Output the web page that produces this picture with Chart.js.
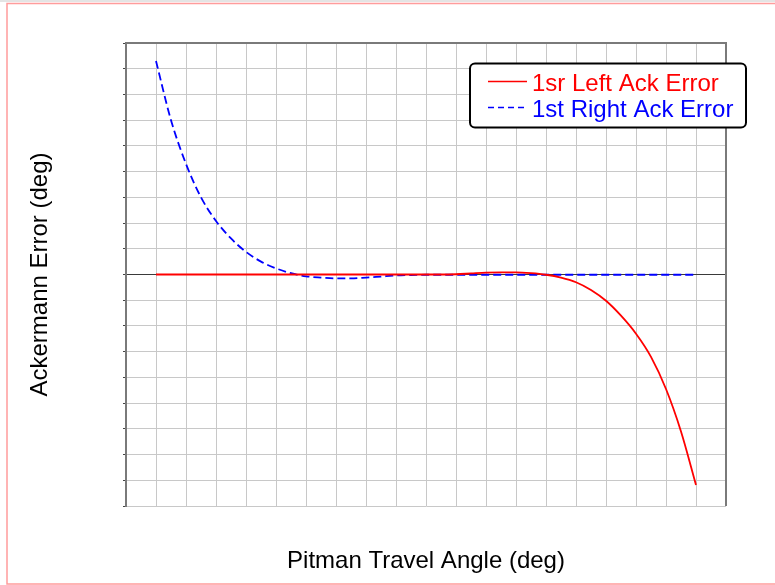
<!DOCTYPE html>
<html>
<head>
<meta charset="utf-8">
<script src="https://cdn.jsdelivr.net/npm/chart.js@4/dist/chart.umd.min.js"></script>
<style>
  html, body { margin: 0; padding: 0; background: #ffffff; }
  canvas { display: block; }
</style>
</head>
<body>
<canvas id="c" width="775" height="585"></canvas>
<script>
// ---- data (axis units hidden in the original) ----
const pitmanAngle = [1, 1.5, 2, 2.5, 3, 3.5, 4, 4.5, 5, 5.5, 6, 6.5, 7, 7.5, 8, 8.5, 9, 9.5, 10,
                     10.5, 11, 11.5, 12, 12.5, 13, 13.5, 14, 14.5, 15, 15.5, 16, 16.5, 17, 17.5, 18, 18.5, 19];
const leftAckError = [0, 0, 0, 0, 0, 0, 0, 0, 0, 0, 0, 0, 0, 0, 0, 0, 0, 0, 0,
                      0, 0.01, 0.04, 0.07, 0.08, 0.08, 0.05, -0.01, -0.12, -0.3, -0.6, -1.02, -1.6, -2.3, -3.2, -4.45, -6.1, -8.18];
const rightAckError = [8.3, 6.0, 4.3, 3.0, 2.08, 1.4, 0.88, 0.5, 0.24, 0.05, -0.07, -0.12, -0.15, -0.15, -0.12, -0.08, -0.04, -0.02, -0.01,
                       -0.01, -0.01, -0.01, -0.01, -0.01, -0.01, -0.01, -0.01, -0.01, -0.01, -0.01, -0.01, -0.01, -0.01, -0.01, -0.01, -0.01, -0.01];
const seriesNames = ["1sr Left Ack Error", "1st Right Ack Error"];
const xTitle = "Pitman Travel Angle (deg)";
const yTitle = "Ackermann Error (deg)";
const xRange = [0, 20];
const yRange = [-9, 9];

const FONT = "Arial, 'Liberation Sans', sans-serif";

const pagePlugin = {
  id: 'page',
  beforeDraw(chart) {
    const ctx = chart.ctx;
    ctx.save();
    ctx.fillStyle = '#ffffff';
    ctx.fillRect(0, 0, chart.width, chart.height);
    ctx.fillStyle = '#e4e4e4';
    ctx.fillRect(0, 0, chart.width, 2);
    ctx.strokeStyle = '#ff9c9c';
    ctx.lineWidth = 1.5;
    ctx.beginPath();
    ctx.moveTo(chart.width, 3.5);
    ctx.lineTo(7, 3.5);
    ctx.lineTo(7, 584);
    ctx.lineTo(chart.width, 584);
    ctx.stroke();
    ctx.restore();
  },
  afterDatasetsDraw(chart) {
    const ctx = chart.ctx;
    const a = chart.chartArea;
    ctx.save();
    ctx.strokeStyle = '#7a7a7a';
    ctx.lineWidth = 2;
    ctx.beginPath();
    ctx.moveTo(a.left, a.bottom);
    ctx.lineTo(a.left, a.top);
    ctx.lineTo(a.right, a.top);
    ctx.lineTo(a.right, a.bottom);
    ctx.stroke();
    ctx.restore();
  },
  afterDraw(chart) {
    // legend box inside the plot
    const ctx = chart.ctx;
    ctx.save();
    const bx = 470, by = 63.5, bw = 276, bh = 64, r = 5;
    ctx.fillStyle = '#ffffff';
    ctx.strokeStyle = '#000000';
    ctx.lineWidth = 2;
    ctx.beginPath();
    ctx.roundRect(bx, by, bw, bh, r);
    ctx.fill();
    ctx.stroke();
    const baselines = [91, 117];
    chart.data.datasets.forEach((ds, i) => {
      const ly = baselines[i] - 9.5;
      ctx.strokeStyle = ds.borderColor;
      ctx.lineWidth = 1.5;
      ctx.setLineDash(ds.borderDash && ds.borderDash.length ? [6, 4] : []);
      ctx.beginPath();
      ctx.moveTo(488, ly);
      ctx.lineTo(527, ly);
      ctx.stroke();
      ctx.setLineDash([]);
      ctx.fillStyle = ds.borderColor;
      ctx.font = '24px ' + FONT;
      ctx.textBaseline = 'alphabetic';
      ctx.textAlign = 'left';
      ctx.fillText(ds.label, 532, baselines[i]);
    });
    ctx.restore();
  }
};

new Chart(document.getElementById('c'), {
  type: 'line',
  data: {
    labels: pitmanAngle,
    datasets: [
      {
        label: seriesNames[0],
        data: pitmanAngle.map((x, i) => ({ x: x, y: leftAckError[i] })),
        borderColor: '#ff0000',
        borderWidth: 1.8,
        pointRadius: 0,
        cubicInterpolationMode: 'monotone',
        fill: false
      },
      {
        label: seriesNames[1],
        data: pitmanAngle.map((x, i) => ({ x: x, y: rightAckError[i] })),
        borderColor: '#0000ff',
        borderWidth: 1.8,
        borderDash: [8, 4],
        pointRadius: 0,
        cubicInterpolationMode: 'monotone',
        fill: false
      }
    ]
  },
  options: {
    responsive: false,
    animation: false,
    devicePixelRatio: 1,
    layout: { padding: { top: 43, right: 49, left: 0, bottom: 0 } },
    plugins: {
      legend: { display: false },
      tooltip: { enabled: false },
      title: { display: false }
    },
    scales: {
      x: {
        type: 'linear',
        min: xRange[0],
        max: xRange[1],
        ticks: { display: false, stepSize: 1 },
        grid: { color: '#c8c8c8', lineWidth: 1, drawTicks: false },
        border: { display: false },
        title: {
          display: true,
          text: xTitle,
          color: '#000000',
          font: { family: FONT, size: 24 },
          padding: { top: 0, bottom: 9 }
        },
        afterFit(scale) { scale.height = 79; }
      },
      y: {
        type: 'linear',
        min: yRange[0],
        max: yRange[1],
        ticks: { display: false, stepSize: 1 },
        grid: {
          color: (c) => (c.tick && c.tick.value === 0) ? '#3a3a3a' : '#c8c8c8',
          lineWidth: 1,
          drawTicks: true,
          tickLength: 3,
          tickColor: '#444444'
        },
        border: { display: true, color: '#7a7a7a', width: 2 },
        title: {
          display: true,
          text: yTitle,
          color: '#000000',
          font: { family: FONT, size: 24 },
          padding: { top: 26, bottom: 0 }
        },
        afterFit(scale) { scale.width = 126; }
      }
    }
  },
  plugins: [pagePlugin]
});
</script>
</body>
</html>
